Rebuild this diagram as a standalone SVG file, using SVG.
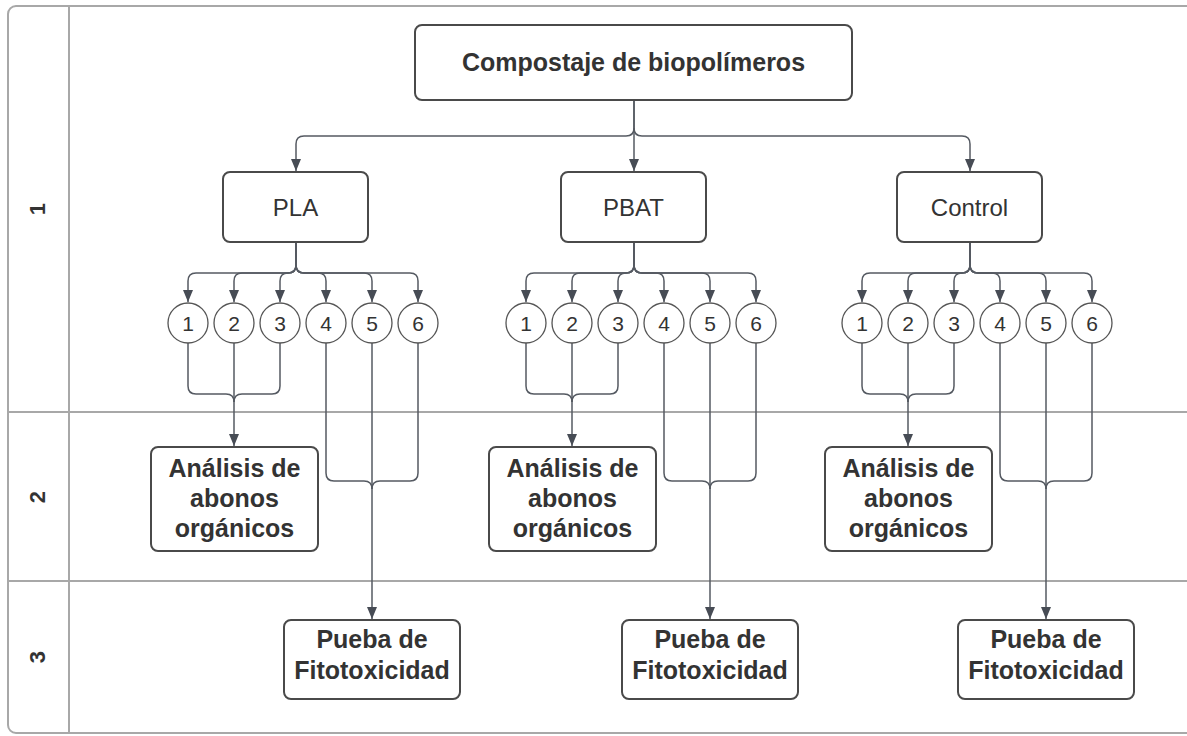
<svg xmlns="http://www.w3.org/2000/svg" width="1187" height="736" viewBox="0 0 1187 736">
<style>
.frame{fill:none;stroke:#a8a8a8;stroke-width:2}
.box{fill:#fff;stroke:#4a4a4a;stroke-width:2}
.circ{fill:#fff;stroke:#555;stroke-width:1.3}
.c{fill:none;stroke:#555a62;stroke-width:1.5}
.ca{fill:none;stroke:#555a62;stroke-width:1.5;marker-end:url(#ah)}
.t{font-family:"Liberation Sans",Arial,sans-serif;fill:#333;text-anchor:middle}
.b{font-weight:bold;font-size:25px}
.r{font-size:24px}
.n{font-size:21px}
.lane{font-family:"Liberation Sans",Arial,sans-serif;fill:#333;font-weight:bold;font-size:22px;text-anchor:middle}
</style>
<defs>
<marker id="ah" viewBox="0 0 12 10" refX="12" refY="5" markerWidth="12" markerHeight="10" markerUnits="userSpaceOnUse" orient="auto">
<path d="M0,0 L12,5 L0,10 z" fill="#474c55"/>
</marker>
</defs>
<rect width="1187" height="736" fill="#fff"/>
<g id="lanes">
<rect class="frame" x="8" y="6" width="1200" height="727" rx="8"/>
<line class="frame" x1="69" y1="6" x2="69" y2="733"/>
<line class="frame" x1="8" y1="412" x2="1200" y2="412"/>
<line class="frame" x1="8" y1="581" x2="1200" y2="581"/>
<text class="lane" transform="translate(45,209) rotate(-90)">1</text>
<text class="lane" transform="translate(45,497) rotate(-90)">2</text>
<text class="lane" transform="translate(45,657) rotate(-90)">3</text>
</g>
<g id="connectors">
<path class="ca" d="M634,100 V128 Q634,136 626,136 H304 Q296,136 296,144 V171"/>
<path class="ca" d="M634,100 V171"/>
<path class="ca" d="M634,128 Q634,136 642,136 H962 Q970,136 970,144 V171"/>
<path class="ca" d="M296,242 V265 Q296,273 288,273 H196 Q188,273 188,281 V302"/>
<path class="ca" d="M296,242 V265 Q296,273 288,273 H242 Q234,273 234,281 V302"/>
<path class="ca" d="M296,242 V265 Q296,273 288,273 Q280,273 280,281 V302"/>
<path class="ca" d="M296,242 V265 Q296,273 304,273 H318 Q326,273 326,281 V302"/>
<path class="ca" d="M296,242 V265 Q296,273 304,273 H364 Q372,273 372,281 V302"/>
<path class="ca" d="M296,242 V265 Q296,273 304,273 H410 Q418,273 418,281 V302"/>
<path class="ca" d="M634,242 V265 Q634,273 626,273 H534 Q526,273 526,281 V302"/>
<path class="ca" d="M634,242 V265 Q634,273 626,273 H580 Q572,273 572,281 V302"/>
<path class="ca" d="M634,242 V265 Q634,273 626,273 Q618,273 618,281 V302"/>
<path class="ca" d="M634,242 V265 Q634,273 642,273 H656 Q664,273 664,281 V302"/>
<path class="ca" d="M634,242 V265 Q634,273 642,273 H702 Q710,273 710,281 V302"/>
<path class="ca" d="M634,242 V265 Q634,273 642,273 H748 Q756,273 756,281 V302"/>
<path class="ca" d="M970,242 V265 Q970,273 962,273 H870 Q862,273 862,281 V302"/>
<path class="ca" d="M970,242 V265 Q970,273 962,273 H916 Q908,273 908,281 V302"/>
<path class="ca" d="M970,242 V265 Q970,273 962,273 Q954,273 954,281 V302"/>
<path class="ca" d="M970,242 V265 Q970,273 978,273 H992 Q1000,273 1000,281 V302"/>
<path class="ca" d="M970,242 V265 Q970,273 978,273 H1038 Q1046,273 1046,281 V302"/>
<path class="ca" d="M970,242 V265 Q970,273 978,273 H1084 Q1092,273 1092,281 V302"/>
<path class="c" d="M188,343 V386 Q188,394 196,394 H226 Q234,394 234,402"/>
<path class="c" d="M280,343 V386 Q280,394 272,394 H242 Q234,394 234,402"/>
<path class="ca" d="M234,343 V446"/>
<path class="c" d="M326,343 V473 Q326,481 334,481 H364 Q372,481 372,489"/>
<path class="c" d="M418,343 V473 Q418,481 410,481 H380 Q372,481 372,489"/>
<path class="ca" d="M372,343 V619"/>
<path class="c" d="M526,343 V386 Q526,394 534,394 H564 Q572,394 572,402"/>
<path class="c" d="M618,343 V386 Q618,394 610,394 H580 Q572,394 572,402"/>
<path class="ca" d="M572,343 V446"/>
<path class="c" d="M664,343 V473 Q664,481 672,481 H702 Q710,481 710,489"/>
<path class="c" d="M756,343 V473 Q756,481 748,481 H718 Q710,481 710,489"/>
<path class="ca" d="M710,343 V619"/>
<path class="c" d="M862,343 V386 Q862,394 870,394 H900 Q908,394 908,402"/>
<path class="c" d="M954,343 V386 Q954,394 946,394 H916 Q908,394 908,402"/>
<path class="ca" d="M908,343 V446"/>
<path class="c" d="M1000,343 V473 Q1000,481 1008,481 H1038 Q1046,481 1046,489"/>
<path class="c" d="M1092,343 V473 Q1092,481 1084,481 H1054 Q1046,481 1046,489"/>
<path class="ca" d="M1046,343 V619"/>
</g>
<g id="root"><rect class="box" x="415" y="25" width="437" height="75" rx="7"/><text class="t b" x="633.5" y="71">Compostaje de biopolímeros</text></g>
<g id="pla"><rect class="box" x="223" y="172" width="145" height="70" rx="7"/><text class="t r" x="295.5" y="216">PLA</text></g>
<g id="pbat"><rect class="box" x="561" y="172" width="145" height="70" rx="7"/><text class="t r" x="633.5" y="216">PBAT</text></g>
<g id="control"><rect class="box" x="897" y="172" width="145" height="70" rx="7"/><text class="t r" x="969.5" y="216">Control</text></g>
<g id="pla-1"><circle class="circ" cx="188" cy="323" r="20"/><text class="t n" x="188" y="330.5">1</text></g>
<g id="pla-2"><circle class="circ" cx="234" cy="323" r="20"/><text class="t n" x="234" y="330.5">2</text></g>
<g id="pla-3"><circle class="circ" cx="280" cy="323" r="20"/><text class="t n" x="280" y="330.5">3</text></g>
<g id="pla-4"><circle class="circ" cx="326" cy="323" r="20"/><text class="t n" x="326" y="330.5">4</text></g>
<g id="pla-5"><circle class="circ" cx="372" cy="323" r="20"/><text class="t n" x="372" y="330.5">5</text></g>
<g id="pla-6"><circle class="circ" cx="418" cy="323" r="20"/><text class="t n" x="418" y="330.5">6</text></g>
<g id="pbat-1"><circle class="circ" cx="526" cy="323" r="20"/><text class="t n" x="526" y="330.5">1</text></g>
<g id="pbat-2"><circle class="circ" cx="572" cy="323" r="20"/><text class="t n" x="572" y="330.5">2</text></g>
<g id="pbat-3"><circle class="circ" cx="618" cy="323" r="20"/><text class="t n" x="618" y="330.5">3</text></g>
<g id="pbat-4"><circle class="circ" cx="664" cy="323" r="20"/><text class="t n" x="664" y="330.5">4</text></g>
<g id="pbat-5"><circle class="circ" cx="710" cy="323" r="20"/><text class="t n" x="710" y="330.5">5</text></g>
<g id="pbat-6"><circle class="circ" cx="756" cy="323" r="20"/><text class="t n" x="756" y="330.5">6</text></g>
<g id="control-1"><circle class="circ" cx="862" cy="323" r="20"/><text class="t n" x="862" y="330.5">1</text></g>
<g id="control-2"><circle class="circ" cx="908" cy="323" r="20"/><text class="t n" x="908" y="330.5">2</text></g>
<g id="control-3"><circle class="circ" cx="954" cy="323" r="20"/><text class="t n" x="954" y="330.5">3</text></g>
<g id="control-4"><circle class="circ" cx="1000" cy="323" r="20"/><text class="t n" x="1000" y="330.5">4</text></g>
<g id="control-5"><circle class="circ" cx="1046" cy="323" r="20"/><text class="t n" x="1046" y="330.5">5</text></g>
<g id="control-6"><circle class="circ" cx="1092" cy="323" r="20"/><text class="t n" x="1092" y="330.5">6</text></g>
<g id="pla-analisis"><rect class="box" x="151" y="447" width="167" height="104" rx="7"/><text class="t b"><tspan x="234.5" y="477">Análisis de</tspan><tspan x="234.5" y="507">abonos</tspan><tspan x="234.5" y="537">orgánicos</tspan></text></g>
<g id="pbat-analisis"><rect class="box" x="489" y="447" width="167" height="104" rx="7"/><text class="t b"><tspan x="572.5" y="477">Análisis de</tspan><tspan x="572.5" y="507">abonos</tspan><tspan x="572.5" y="537">orgánicos</tspan></text></g>
<g id="control-analisis"><rect class="box" x="825" y="447" width="167" height="104" rx="7"/><text class="t b"><tspan x="908.5" y="477">Análisis de</tspan><tspan x="908.5" y="507">abonos</tspan><tspan x="908.5" y="537">orgánicos</tspan></text></g>
<g id="pla-fito"><rect class="box" x="284" y="620" width="176" height="79" rx="7"/><text class="t b"><tspan x="372" y="648">Pueba de</tspan><tspan x="372" y="679">Fitotoxicidad</tspan></text></g>
<g id="pbat-fito"><rect class="box" x="622" y="620" width="176" height="79" rx="7"/><text class="t b"><tspan x="710" y="648">Pueba de</tspan><tspan x="710" y="679">Fitotoxicidad</tspan></text></g>
<g id="control-fito"><rect class="box" x="958" y="620" width="176" height="79" rx="7"/><text class="t b"><tspan x="1046" y="648">Pueba de</tspan><tspan x="1046" y="679">Fitotoxicidad</tspan></text></g>
</svg>
